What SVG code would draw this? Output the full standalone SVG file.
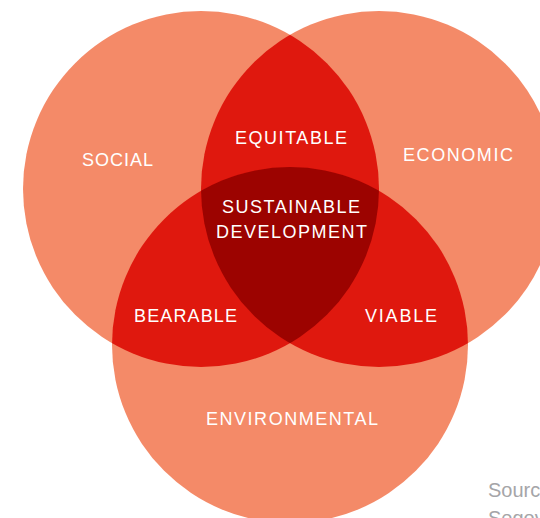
<svg xmlns="http://www.w3.org/2000/svg" width="540" height="518" viewBox="0 0 540 518">
  <style>
    .ring { fill: #F48A68; }
    .pair { fill: #DF180E; }
    .core { fill: #9C0300; }
    .label { font-family: "Liberation Sans", Arial, sans-serif; font-size: 18px; fill: #FFFFFF; }
    .note { font-family: "Liberation Sans", Arial, sans-serif; font-size: 20px; fill: #A5A5A8; }
  </style>
  <defs>
    <clipPath id="clipSocial"><circle cx="201" cy="189" r="178"/></clipPath>
    <clipPath id="clipEconomic"><circle cx="379" cy="189" r="178"/></clipPath>
    <clipPath id="clipEnvironmental"><circle cx="290" cy="345" r="178"/></clipPath>
  </defs>

  <!-- three pillars -->
  <g id="social">
    <circle class="ring" cx="201" cy="189" r="178"/>
    <text class="label" x="82" y="166" textLength="71" lengthAdjust="spacing">SOCIAL</text>
  </g>
  <g id="economic">
    <circle class="ring" cx="379" cy="189" r="178"/>
    <text class="label" x="403" y="161" textLength="110" lengthAdjust="spacing">ECONOMIC</text>
  </g>
  <g id="environmental">
    <circle class="ring" cx="290" cy="345" r="178"/>
    <text class="label" x="206" y="425" textLength="172" lengthAdjust="spacing">ENVIRONMENTAL</text>
  </g>

  <!-- pairwise overlaps -->
  <g id="equitable">
    <circle class="pair" cx="379" cy="189" r="178" clip-path="url(#clipSocial)"/>
    <text class="label" x="235" y="144" textLength="112" lengthAdjust="spacing">EQUITABLE</text>
  </g>
  <g id="bearable">
    <circle class="pair" cx="290" cy="345" r="178" clip-path="url(#clipSocial)"/>
    <text class="label" x="134" y="322" textLength="103" lengthAdjust="spacing">BEARABLE</text>
  </g>
  <g id="viable">
    <circle class="pair" cx="290" cy="345" r="178" clip-path="url(#clipEconomic)"/>
    <text class="label" x="365" y="322" textLength="72" lengthAdjust="spacing">VIABLE</text>
  </g>

  <!-- centre: all three overlap -->
  <g id="sustainable-development">
    <g clip-path="url(#clipSocial)">
      <circle class="core" cx="290" cy="345" r="178" clip-path="url(#clipEconomic)"/>
    </g>
    <text class="label" x="222" y="213" textLength="138" lengthAdjust="spacing">SUSTAINABLE</text>
    <text class="label" x="216" y="238" textLength="151" lengthAdjust="spacing">DEVELOPMENT</text>
  </g>

  <g id="connectors"/>

  <!-- source note -->
  <g id="source">
    <text class="note" x="488" y="497">Sourc</text>
    <text class="note" x="488" y="525">Segov</text>
  </g>
</svg>
